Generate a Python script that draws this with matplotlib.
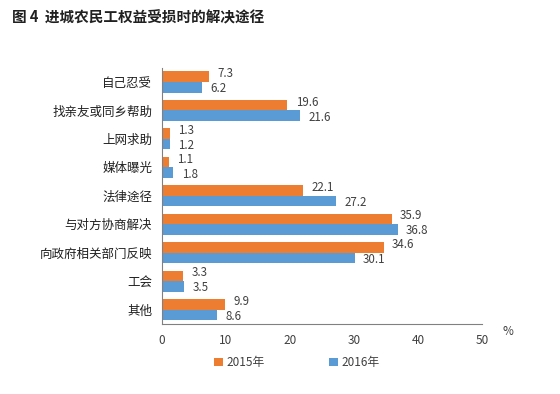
import matplotlib
matplotlib.use("Agg")
import matplotlib.pyplot as plt
import numpy as np

plt.rcParams['font.family'] = ['Noto Sans CJK SC', 'DejaVu Sans']

categories = ["自己忍受", "找亲友或同乡帮助", "上网求助", "媒体曝光", "法律途径",
              "与对方协商解决", "向政府相关部门反映", "工会", "其他"]
values_2015 = [7.3, 19.6, 1.3, 1.1, 22.1, 35.9, 34.6, 3.3, 9.9]
values_2016 = [6.2, 21.6, 1.2, 1.8, 27.2, 36.8, 30.1, 3.5, 8.6]
series_labels = ["2015年", "2016年"]
x_ticks = [0, 10, 20, 30, 40, 50]

ORANGE = "#ED7D31"
BLUE = "#5B9BD5"

fig = plt.figure(figsize=(5.6, 3.94), dpi=100)
ax = fig.add_axes([0.289, 0.178, 0.572, 0.650])

y = np.arange(len(categories))
h = 0.37
b1 = ax.barh(y - h / 2, values_2015, height=h, color=ORANGE, label=series_labels[0])
b2 = ax.barh(y + h / 2, values_2016, height=h, color=BLUE, label=series_labels[1])

# labels nudged away from each other like the original
for bars, vals, dy in ((b1, values_2015, 2.2), (b2, values_2016, -1.0)):
    for rect, v in zip(bars, vals):
        ax.annotate(f"{v}", (rect.get_width(), rect.get_y() + rect.get_height() / 2),
                    xytext=(6, dy), textcoords="offset points", va="center", ha="left",
                    fontsize=8.3, color="#404040")

ax.set_ylim(len(categories) - 0.5, -0.5)
ax.set_xlim(0, 50)
ax.set_xticks(x_ticks)
ax.set_xticklabels([str(t) for t in x_ticks], fontsize=8.5, color="#404040")
ax.set_yticks(y)
ax.set_yticklabels(categories, fontsize=9, color="#202020")
ax.tick_params(axis="both", length=0, pad=7)
for s in ("top", "right"):
    ax.spines[s].set_visible(False)
for s in ("left", "bottom"):
    ax.spines[s].set_color("#808080")
    ax.spines[s].set_linewidth(0.8)

fig.text(0.907, 0.150, "%", fontsize=8.5, color="#404040", ha="center")
fig.text(0.021, 0.955, "图 4  进城农民工权益受损时的解决途径", fontsize=10.5,
         fontweight="bold", color="#202020", va="center")

fig.legend(handles=[b1, b2], labels=series_labels, loc="center", ncol=2,
           bbox_to_anchor=(0.53, 0.08), frameon=False, fontsize=8.5,
           handlelength=0.7, handleheight=0.7, handletextpad=0.3, columnspacing=5.5,
           labelcolor="#404040")

fig.savefig("out.png", dpi=100, facecolor="white")
